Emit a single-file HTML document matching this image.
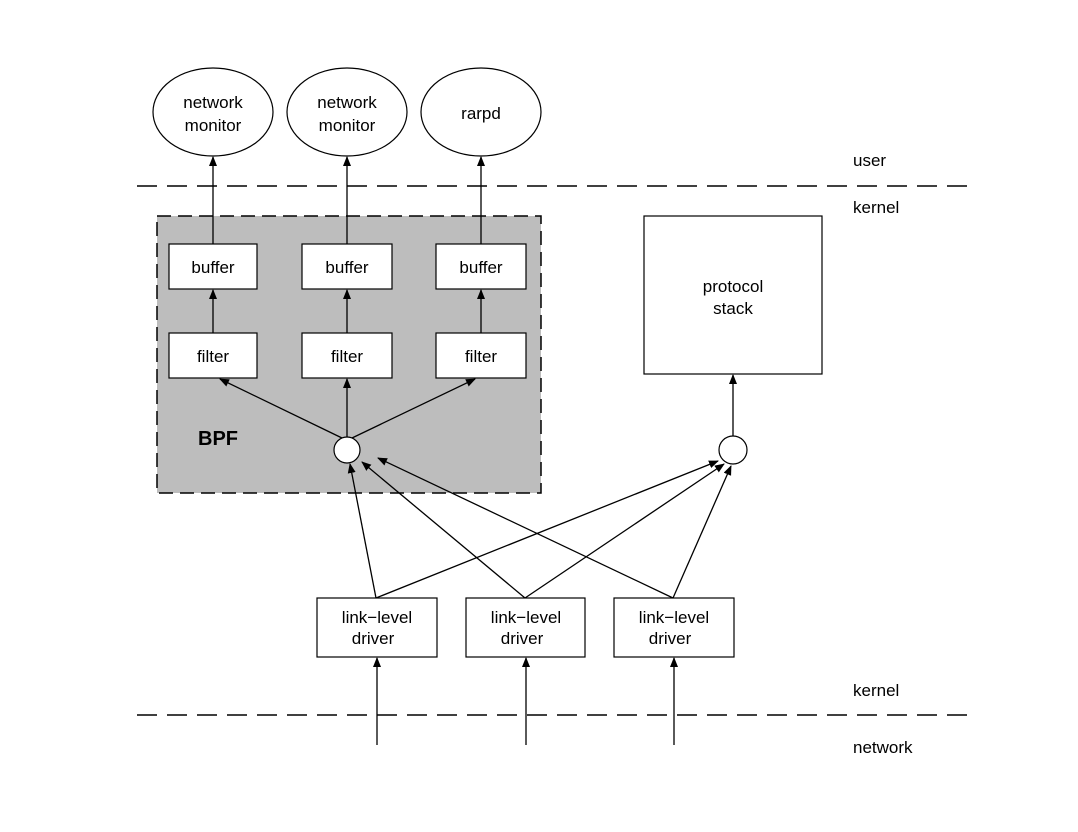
<!DOCTYPE html>
<html><head><style>html,body{margin:0;padding:0;background:#fff;}svg{display:block}</style></head>
<body>
<svg width="1078" height="832" viewBox="0 0 1078 832" xmlns="http://www.w3.org/2000/svg" font-family="Liberation Sans, sans-serif" font-size="17" fill="none">
<defs>
<marker id="a" markerWidth="10" markerHeight="10" refX="9" refY="4" orient="auto" markerUnits="userSpaceOnUse">
<path d="M0,0 L10,4 L0,8 z" fill="#000"/>
</marker>
</defs>
<rect width="1078" height="832" fill="#fff"/>
<!-- BPF region -->
<rect x="157" y="216" width="384" height="277" fill="#bdbdbd" stroke="#000" stroke-width="1.5" stroke-dasharray="14,7"/>
<!-- dashed lines -->
<line x1="137" y1="186" x2="968" y2="186" stroke="#000" stroke-width="1.5" stroke-dasharray="20,10"/>
<line x1="137" y1="715" x2="968" y2="715" stroke="#000" stroke-width="1.5" stroke-dasharray="20,10"/>
<!-- ellipses -->
<g stroke="#000" stroke-width="1.2" fill="#fff">
<ellipse cx="213" cy="112" rx="60" ry="44"/>
<ellipse cx="347" cy="112" rx="60" ry="44"/>
<ellipse cx="481" cy="112" rx="60" ry="44"/>
<rect x="169" y="244" width="88" height="45"/>
<rect x="302" y="244" width="90" height="45"/>
<rect x="436" y="244" width="90" height="45"/>
<rect x="169" y="333" width="88" height="45"/>
<rect x="302" y="333" width="90" height="45"/>
<rect x="436" y="333" width="90" height="45"/>
<rect x="644" y="216" width="178" height="158"/>
<circle cx="347" cy="450" r="13"/>
<circle cx="733" cy="450" r="14"/>
<rect x="317" y="598" width="120" height="59"/>
<rect x="466" y="598" width="119" height="59"/>
<rect x="614" y="598" width="120" height="59"/>
</g>
<!-- arrows -->
<g stroke="#000" stroke-width="1.3" marker-end="url(#a)">
<line x1="213" y1="244" x2="213" y2="157"/>
<line x1="347" y1="244" x2="347" y2="157"/>
<line x1="481" y1="244" x2="481" y2="157"/>
<line x1="213" y1="333" x2="213" y2="290"/>
<line x1="347" y1="333" x2="347" y2="290"/>
<line x1="481" y1="333" x2="481" y2="290"/>
<line x1="347" y1="437" x2="347" y2="379"/>
<line x1="342" y1="438" x2="220" y2="379"/>
<line x1="352" y1="438" x2="475" y2="379"/>
<line x1="733" y1="436" x2="733" y2="375"/>
<line x1="376" y1="598" x2="350" y2="464"/>
<line x1="525" y1="598" x2="362" y2="462"/>
<line x1="673" y1="598" x2="378" y2="458"/>
<line x1="376" y1="598" x2="718" y2="461"/>
<line x1="525" y1="598" x2="724" y2="464"/>
<line x1="673" y1="598" x2="731" y2="466"/>
<line x1="377" y1="745" x2="377" y2="658"/>
<line x1="526" y1="745" x2="526" y2="658"/>
<line x1="674" y1="745" x2="674" y2="658"/>
</g>
<g fill="#000" text-anchor="middle">
<text x="213" y="108">network</text><text x="213" y="131">monitor</text>
<text x="347" y="108">network</text><text x="347" y="131">monitor</text>
<text x="481" y="119">rarpd</text>
<text x="213" y="273">buffer</text><text x="347" y="273">buffer</text><text x="481" y="273">buffer</text>
<text x="213" y="362">filter</text><text x="347" y="362">filter</text><text x="481" y="362">filter</text>
<text x="733" y="292">protocol</text><text x="733" y="314">stack</text>
<text x="377" y="623">link−level</text><text x="373" y="644">driver</text>
<text x="526" y="623">link−level</text><text x="522" y="644">driver</text>
<text x="674" y="623">link−level</text><text x="670" y="644">driver</text>
</g>
<g fill="#000">
<text x="853" y="166">user</text>
<text x="853" y="213">kernel</text>
<text x="853" y="696">kernel</text>
<text x="853" y="753">network</text>
<text x="198" y="445" font-weight="bold" font-size="20">BPF</text>
</g>
</svg>
</body></html>
